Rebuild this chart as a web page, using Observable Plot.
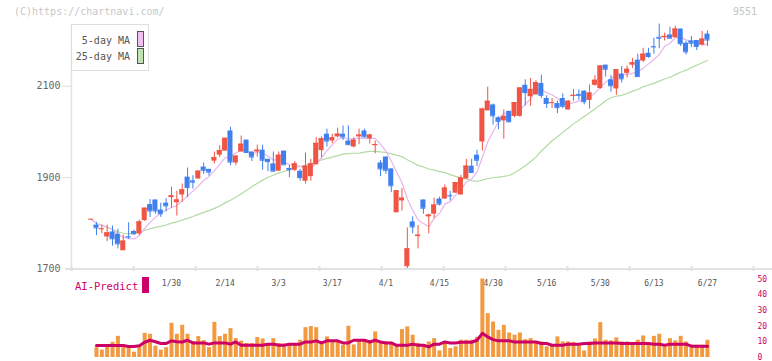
<!DOCTYPE html>
<html><head><meta charset="utf-8">
<script src="https://cdn.jsdelivr.net/npm/d3@7"></script>
<script src="https://cdn.jsdelivr.net/npm/@observablehq/plot@0.6"></script>
<style>
body{margin:0;background:#fff;}
#wrap{position:relative;width:772px;height:361px;overflow:hidden;background:#fff;font-family:"DejaVu Sans Mono",monospace;}
#wrap svg{position:absolute;left:0;top:0;background:transparent !important;}
.ov{position:absolute;white-space:nowrap;}
</style></head><body>
<div id="wrap"></div>
<script>
// ---- data (index 0 = first trading day shown) ----
const openP = [1809,1796,1787,1770,1781,1776,1740,1771,1782,1777, 1806,1841,1851,1829,1844,1856,1845,1862,1901,1893, 1897,1923,1918,1936,1949,1958,2002,1932,1956,1982, 1956,1956,1960,1940,1930,1914,1958,1920,1916,1914, 1892,1902,1928,1959,1995,1980,1989,1995,1980,1967, 1989,2002,1985,1970,1932,1945,1919,1823,1849,1705, 1803,1771,1851,1814,1820,1853,1853,1861,1866,1862, 1897,1925,1949,1978,2046,2059,2031,2024,2045,2034, 2034,2102,2077,2081,2106,2073,2063,2062,2073,2048, 2078,2082,2089,2069,2102,2095,2146,2114,2094,2126, 2128,2146,2157,2155,2172,2187,2207,2206,2212,2206, 2225,2194,2199,2200,2190,2214];
const highP = [1809,1802,1796,1796,1794,1787,1774,1801,1785,1807, 1833,1852,1851,1844,1854,1879,1870,1886,1921,1904, 1914,1932,1918,1956,1970,1986,2010,1947,1991,1982, 1956,1971,1971,1940,1956,1956,1958,1927,1935,1918, 1954,1940,1988,1989,2006,1995,2008,2013,2013,1987, 2006,2006,1995,1980,1937,1945,1919,1871,1876,1790, 1814,1795,1851,1820,1855,1857,1884,1870,1889,1905, 1940,1940,1960,2052,2098,2061,2033,2048,2045,2064, 2096,2114,2117,2112,2124,2079,2073,2067,2083,2069, 2093,2092,2090,2103,2123,2145,2146,2123,2136,2143, 2144,2161,2170,2183,2183,2205,2236,2216,2229,2231, 2225,2198,2209,2200,2220,2221];
const lowP = [1809,1773,1777,1760,1750,1744,1740,1765,1774,1773, 1804,1813,1820,1813,1825,1833,1816,1846,1856,1875, 1897,1907,1903,1930,1944,1958,1926,1926,1956,1954, 1935,1945,1916,1913,1913,1914,1928,1900,1913,1892, 1886,1892,1928,1943,1967,1974,1987,1981,1972,1965, 1972,1987,1974,1952,1902,1907,1867,1823,1827,1701, 1777,1744,1820,1777,1810,1838,1853,1849,1866,1862, 1897,1911,1924,1958,2046,2015,2005,1984,2020,2031, 2032,2057,2056,2081,2073,2051,2051,2040,2051,2048, 2067,2069,2059,2050,2100,2093,2120,2087,2080,2107, 2118,2139,2120,2152,2161,2170,2182,2199,2205,2206, 2187,2168,2185,2178,2188,2187];
const closeP = [1809,1790,1788,1779,1766,1755,1761,1770,1777,1803, 1833,1827,1827,1821,1838,1860,1851,1873,1878,1890, 1914,1916,1912,1944,1959,1986,1934,1947,1973,1955, 1945,1960,1938,1935,1914,1949,1928,1917,1930,1900, 1925,1930,1975,1985,1980,1987,1995,1989,1972,1982, 1993,1989,1993,1972,1919,1916,1882,1871,1855,1744, 1792,1774,1833,1818,1840,1842,1877,1860,1889,1899, 1925,1911,1938,2050,2067,2035,2023,2034,2022,2064, 2096,2086,2093,2108,2080,2062,2064,2053,2056,2067, 2080,2080,2066,2085,2113,2144,2137,2101,2136,2116, 2137,2151,2121,2170,2165,2186,2205,2209,2205,2225, 2193,2175,2194,2187,2203,2201];
const volume = [null,6.3,4.7,6.8,9.7,13.5,6.3,6.3,3.4,7.2, 15.4,14.8,7.2,4.7,6.3,21.8,14.8,20.5,14.8,10.1, 13.3,10.8,6.3,22.4,13.3,14.8,18.4,12,10.4,8.9, 8.9,12.7,11.8,8.9,12,8.9,8.5,8.9,8.9,11, 19,19.7,19,10.1,13.1,10.4,10.4,7.8,19.9,8, 10.1,10.1,10.8,16.3,9.7,10.1,9.7,8,17.8,19.5, 14.2,8.9,7.8,9.9,12,4.2,8.9,5.7,6.8,11, 11,11,12.9,50,27.9,22.6,17.3,20.5,15.6,14.2, 15.6,11.4,12,9.9,9.9,6.8,7.2,13.1,9.9,9.9, 9.5,7.8,4.2,9.9,11.8,22.2,11,10.6,12.5,9.9, 9.9,8.5,11,13.7,7.8,13.5,14.8,6.8,12,10.6, 13.5,9.9,7.8,7.8,7.8,11];
const predict = [null,7.6,7.6,7.6,7.6,7.6,7.6,7.0,7.0,7.5, 9.7,11,10,8.9,8.9,10.6,10,9.9,11,9.3, 9.3,9.3,8.5,9.3,9.3,9.3,8.5,9.9,7.8,7.8, 7.8,7.8,7.8,8.5,8.5,7.8,7.8,8.5,8.5,8.5, 9.9,9.9,10.6,9.3,10.6,10.6,10.6,9.3,9.3,11, 11,11,9.9,11,9.9,9.3,9.3,7.8,7.8,7.8, 8.5,7.8,7.8,6.8,8.5,8.5,9.9,9.3,9.3,9.7, 9.7,9.7,11,15.4,13.1,11.4,10.6,10.6,10.6,9.9, 9.9,9.9,9.9,9.9,8.9,8.9,7.8,7.8,7.8,8.5, 8.5,8.5,8.9,8.9,9.3,9.3,9.3,9.3,9.3,8.9, 8.9,8.9,8.9,8.9,8.9,8.5,8.5,7.8,8.5,8.5, 8.5,8.5,7.2,7.2,7.2,7.2];
const dateLabels = ["1/30","2/14","3/3","3/17","4/1","4/15","4/30","5/16","5/30","6/13","6/27"];
const dateIndex = [15,25,35,45,55,65,75,85,95,105,115];
const priceTicks = [1700,1900,2100];
const volTicks = [0,10,20,30,40,50];

// ---- styling / layout ----
const RED = "#f05444", BLUE = "#3f7fee";
const FONT = "'DejaVu Sans Mono', monospace";
const xDomain = [-4.776, 127.13];
const xLeft = -3.657, tickStep = 11.567;
const gridTicks = d3.range(12).map(k => xLeft + k * tickStep);

const rows = openP.map((o, i) => ({
  i, open: o, high: highP[i], low: lowP[i], close: closeP[i],
  color: closeP[i] >= o ? RED : BLUE, vol: volume[i], pred: predict[i]
}));

const price = Plot.plot({
  width: 772, height: 361,
  marginLeft: 65, marginRight: 0, marginTop: 24, marginBottom: 92.5,
  x: {domain: xDomain, axis: null},
  y: {domain: [1700, 2235], axis: null},
  style: {fontFamily: FONT, background: "transparent", overflow: "visible"},
  marks: [
    Plot.ruleY([1700], {stroke: "#e2e2e2", strokeWidth: 2}),
    Plot.ruleX([xLeft], {stroke: "#e2e2e2", strokeWidth: 1.5}),
    Plot.ruleY(priceTicks.filter(d => d > 1700), {x1: xLeft - 1.7, x2: xLeft, stroke: "#dcdcdc"}),
    Plot.ruleX(gridTicks, {y1: 1694.5, y2: 1705.5, stroke: "#e0e0e0", strokeWidth: 2}),
    Plot.text(priceTicks, {x: xLeft, y: d => d, dx: -11, text: d => String(d), textAnchor: "end", fill: "#666", fontSize: 10}),
    Plot.text(dateIndex, {x: d => d, frameAnchor: "bottom", dy: 17, text: (d, k) => dateLabels[k], fill: "#555", fontSize: 8}),
    Plot.lineY(rows, Plot.windowY({k: 25, anchor: "end", strict: false}, {x: "i", y: "close", stroke: "#b3dba3", strokeWidth: 1.2})),
    Plot.lineY(rows, Plot.windowY({k: 5, anchor: "end", strict: false}, {x: "i", y: "close", stroke: "#e9b5ec", strokeWidth: 1.2})),
    Plot.ruleX(rows, {x: "i", y1: "low", y2: "high", stroke: "color", strokeWidth: 1}),
    Plot.rect(rows, {x1: d => d.i - 0.47, x2: d => d.i + 0.47, y1: "open", y2: "close", fill: "color"}),
    Plot.ruleY(rows, {y: "close", x1: d => d.i - 0.47, x2: d => d.i + 0.47, stroke: "color", strokeWidth: 1})
  ]
});

const vol = Plot.plot({
  width: 772, height: 361,
  marginLeft: 65, marginRight: 0, marginTop: 278.5, marginBottom: 4,
  x: {domain: xDomain, axis: null},
  y: {domain: [0, 50], axis: null},
  style: {fontFamily: FONT, background: "transparent", overflow: "visible"},
  marks: [
    Plot.ruleX(rows.filter(d => d.vol != null), {x: "i", y1: 0, y2: "vol", stroke: "#f29a40", strokeWidth: 4}),
    Plot.line(rows.filter(d => d.pred != null), {x: "i", y: "pred", stroke: "#cc0066", strokeWidth: 3}),
    Plot.text(volTicks, {y: d => d, frameAnchor: "right", dx: -15, text: d => String(d), textAnchor: "start", fill: "#cc0066", fontSize: 8})
  ]
});

const wrap = document.getElementById("wrap");
wrap.appendChild(price);
wrap.appendChild(vol);

function addText(txt, opts) {
  const d = document.createElement("div");
  d.className = "ov";
  d.textContent = txt;
  const size = opts.size || 10;
  d.style.fontSize = size + "px";
  d.style.lineHeight = size + "px";
  d.style.top = (opts.cy - size / 2) + "px";
  if (opts.left != null) d.style.left = opts.left + "px";
  if (opts.right != null) { d.style.right = (772 - opts.right) + "px"; d.style.textAlign = "right"; }
  d.style.color = opts.color;
  wrap.appendChild(d);
  return d;
}
function addBox(x, y, w, h, css) {
  const d = document.createElement("div");
  d.className = "ov";
  d.style.cssText += `left:${x}px;top:${y}px;width:${w}px;height:${h}px;box-sizing:border-box;` + css;
  wrap.appendChild(d);
  return d;
}

addText("(C)https://chartnavi.com/", {left: 14, cy: 12, size: 10, color: "#c8c8c8"});
addText("9551", {right: 757, cy: 12, size: 10, color: "#c4c4c4"});
addBox(70.5, 24, 78, 47, "border:1px solid #dedede;background:#fff;");
addText("5-day MA", {right: 130, cy: 40.5, size: 10, color: "#555"});
addText("25-day MA", {right: 130, cy: 56.5, size: 10, color: "#555"});
addBox(136.5, 31, 7, 15.5, "border:1px solid #555;background:#f0c0f0;");
addBox(136.5, 48, 7, 15.5, "border:1px solid #555;background:#c0e2b0;");
addText("AI-Predict", {left: 75, cy: 286, size: 10.5, color: "#cc0066"});
addBox(142, 277, 7, 16, "background:#cc0066;");
</script>
</body></html>
